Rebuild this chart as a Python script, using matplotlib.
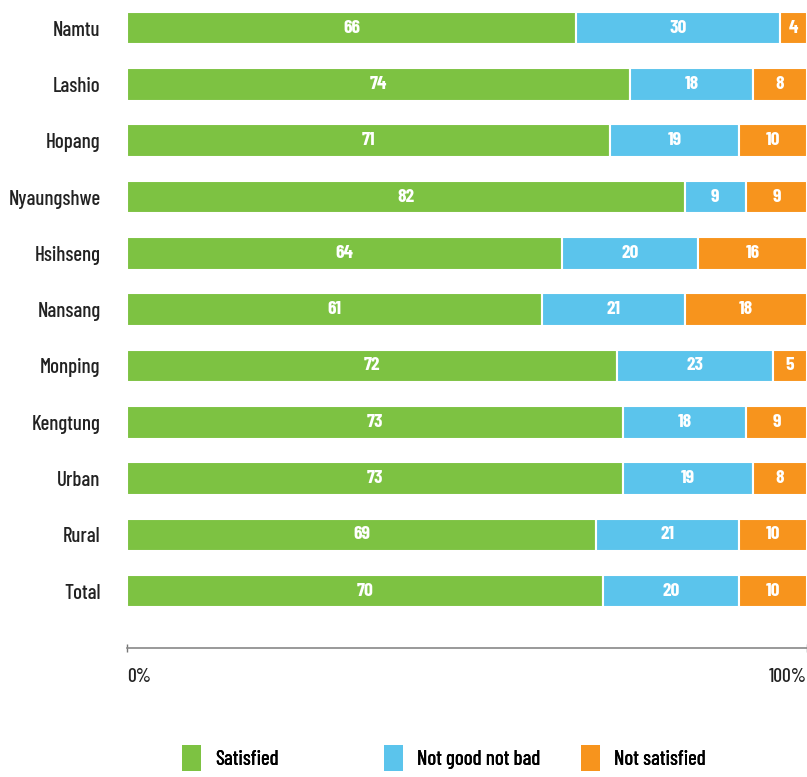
import matplotlib
matplotlib.use("Agg")
import matplotlib.pyplot as plt
from matplotlib.patches import Patch
from matplotlib import font_manager

# Survey results by township / area (percent of respondents)
categories = ["Namtu", "Lashio", "Hopang", "Nyaungshwe", "Hsihseng", "Nansang",
              "Monping", "Kengtung", "Urban", "Rural", "Total"]
satisfied = [66, 74, 71, 82, 64, 61, 72, 73, 73, 69, 70]
neutral = [30, 18, 19, 9, 20, 21, 23, 18, 19, 21, 20]
not_satisfied = [4, 8, 10, 9, 16, 18, 5, 9, 8, 10, 10]
series_names = ["Satisfied", "Not good not bad", "Not satisfied"]
colors = ["#7DC242", "#5BC4EC", "#F7941D"]

names = {f.name for f in font_manager.fontManager.ttflist}
preferred = ["Barlow Condensed", "Roboto Condensed", "Saira ExtraCondensed",
             "Sofia Sans Extra Condensed"]
family = [f for f in preferred if f in names][:1] or ["DejaVu Sans"]
plt.rcParams["font.family"] = family + ["DejaVu Sans"]

W, H = 807, 777
fig = plt.figure(figsize=(W / 100, H / 100), dpi=100)
ax = fig.add_axes([127 / W, 1 - 648 / H, 680 / W, 648 / H])

ypos = list(range(len(categories)))
left = [0] * len(categories)
for vals, col in zip([satisfied, neutral, not_satisfied], colors):
    bars = ax.barh(ypos, vals, left=left, height=0.58, color=col,
                   edgecolor="white", linewidth=1.5)
    for b, v in zip(bars, vals):
        ax.text(b.get_x() + b.get_width() / 2, b.get_y() + b.get_height() / 2,
                f"{v}", ha="center", va="center", color="white",
                fontsize=14, fontweight="bold")
    left = [l + v for l, v in zip(left, vals)]

ax.set_xlim(0, 100)
ax.set_ylim(11.01, -0.5)
ax.set_yticks(ypos)
ax.set_yticklabels(categories, fontsize=15, color="#222222", fontweight="medium")
ax.tick_params(axis="y", length=0, pad=19)
ax.set_xticks([0, 100])
ax.set_xticklabels([])
ax.tick_params(axis="x", length=6, direction="inout", color="#777777", width=1)
for s in ["top", "right", "left"]:
    ax.spines[s].set_visible(False)
ax.spines["bottom"].set_color("#888888")
ax.spines["bottom"].set_linewidth(1.2)

ax.text(0, -0.031, "0%", transform=ax.transAxes, ha="left", va="top",
        fontsize=14, color="#222222", fontweight="medium")
ax.text(1.0, -0.031, "100%", transform=ax.transAxes, ha="right", va="top",
        fontsize=14, color="#222222", fontweight="medium")

# Legend entries are laid out on an even column grid
legend_x = [182, 384, 581]
for name, col, x in zip(series_names, colors, legend_x):
    leg = fig.legend([Patch(facecolor=col, edgecolor="none")], [name],
                     loc="center left", bbox_to_anchor=(x / W, 1 - 758 / H),
                     frameon=False, borderpad=0, borderaxespad=0,
                     handlelength=0.9, handleheight=1.6, handletextpad=0.7,
                     prop={"size": 15, "weight": "medium"})
    fig.add_artist(leg)

fig.savefig("out.png", dpi=100)
